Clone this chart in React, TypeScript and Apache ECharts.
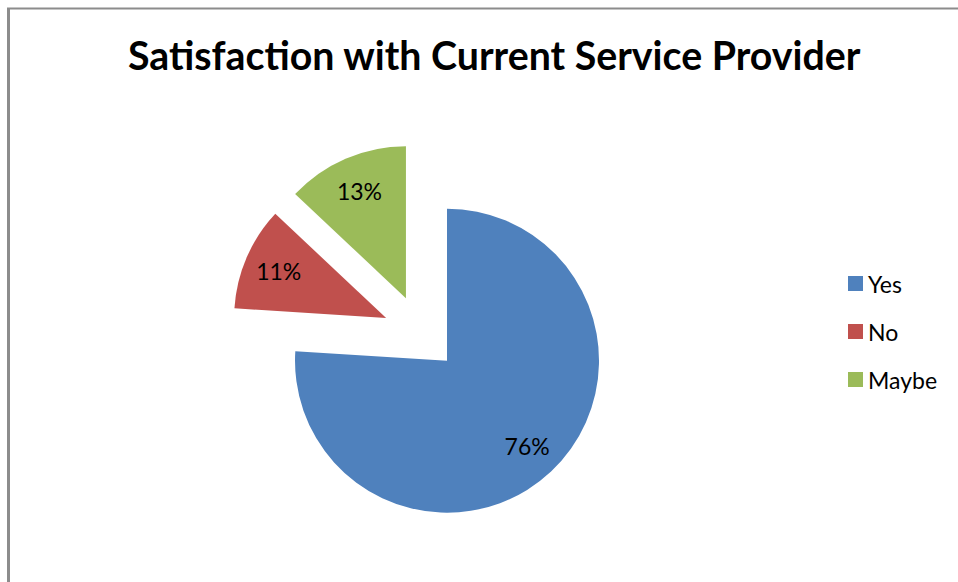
import React, { useEffect, useRef } from "react";
import * as echarts from "echarts";

const categories = ["Yes", "No", "Maybe"];
const values = [76, 11, 13];
const colors = ["#4F81BD", "#C0504D", "#9BBB59"];
const titleText = "Satisfaction with Current Service Provider";

export default function App() {
  const ref = useRef<HTMLDivElement>(null);
  useEffect(() => {
    if (!ref.current) return;
    const chart = echarts.init(ref.current, undefined, { renderer: "svg" });
    const data = categories.map((name, i) => ({
      name,
      value: values[i],
      selected: true,
      itemStyle: { color: colors[i] },
    }));
    const labelData = categories.map((name, i) => ({
      name,
      value: values[i],
      selected: true,
      itemStyle: { color: "rgba(0,0,0,0)" },
    }));
    chart.setOption({
      animation: false,
      backgroundColor: "#ffffff",
      title: {
        text: titleText,
        left: 123,
        top: 30,
        textStyle: {
          fontFamily: "Lato",
          fontWeight: "bold",
          fontSize: 39.3,
          color: "#000000",
        },
      },
      legend: {
        orient: "vertical",
        left: 843,
        top: 267,
        itemWidth: 15,
        itemHeight: 15,
        itemGap: 25,
        icon: "rect",
        data: categories,
        textStyle: { fontFamily: "Lato", fontSize: 23, color: "#000000" },
      },
      graphic: [
        {
          type: "line",
          shape: { x1: 8.5, y1: 8, x2: 8.5, y2: 582 },
          style: { stroke: "#8c8c8c", lineWidth: 3 },
          silent: true,
        },
        {
          type: "line",
          shape: { x1: 7, y1: 8.5, x2: 958, y2: 8.5 },
          style: { stroke: "#8c8c8c", lineWidth: 2 },
          silent: true,
        },
      ],
      series: [
        {
          type: "pie",
          center: [421, 333],
          radius: [0, 152],
          startAngle: 90,
          clockwise: true,
          selectedMode: "multiple",
          selectedOffset: 38,
          silent: true,
          label: { show: false },
          labelLine: { show: false },
          emphasis: { disabled: true },
          data,
        },
        {
          type: "pie",
          center: [421, 333],
          radius: [0, 228],
          startAngle: 90,
          clockwise: true,
          selectedMode: "multiple",
          selectedOffset: 38,
          silent: true,
          legendHoverLink: false,
          label: {
            show: true,
            position: "inside",
            formatter: "{d}%",
            fontFamily: "Lato",
            fontSize: 23,
            color: "#000000",
          },
          labelLine: { show: false },
          emphasis: { disabled: true },
          data: labelData,
        },
      ],
    });
    return () => chart.dispose();
  }, []);
  return (
    <div
      ref={ref}
      style={{ position: "absolute", left: 0, top: 0, width: 958, height: 582 }}
    />
  );
}
